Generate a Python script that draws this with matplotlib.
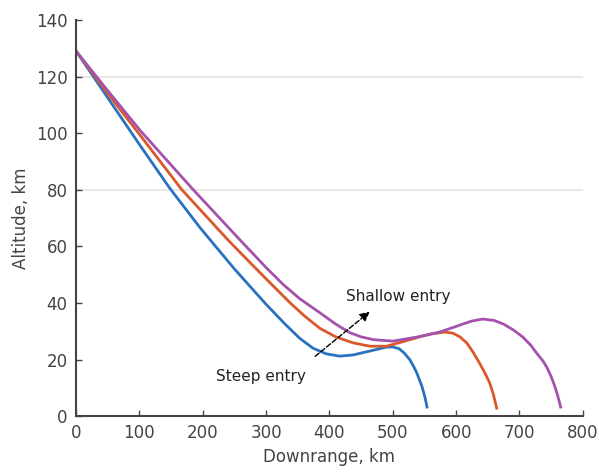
import matplotlib
matplotlib.use("Agg")
import matplotlib.pyplot as plt

# steep entry (blue)
steep_km = [0, 50, 100, 148, 196, 250, 300, 330, 353, 374, 395, 416, 437, 464, 490, 501, 510, 518, 527, 533, 538, 546, 551, 554]
steep_alt = [129, 112.5, 96, 80.5, 66.5, 52, 39.5, 32.5, 27.5, 24, 22, 21.2, 21.6, 23.0, 24.4, 24.4, 23.8, 22.3, 19.9, 17.5, 15.2, 10.5, 6.5, 3.2]

# middle entry (orange)
mid_km = [0, 50, 101, 167, 240, 274, 300, 338, 360, 385, 410, 437, 464, 490, 516, 542, 560, 582, 595, 606, 617, 627, 637, 646, 653, 659, 664]
mid_alt = [129, 114, 99.3, 80, 62.2, 54.4, 48.5, 40, 35.5, 31, 28, 25.9, 24.7, 24.7, 26.3, 28, 29, 29.7, 29.3, 28, 25.8, 22.5, 18.7, 15, 11.7, 7.5, 2.8]

# shallow entry (purple)
shallow_km = [0, 50, 101, 185, 259, 300, 327, 353, 385, 410, 432, 450, 470, 500, 540, 574, 595, 610, 625, 642, 660, 675, 690, 705, 718, 728, 737, 743, 750, 755, 760, 765]
shallow_alt = [129, 115, 101, 80, 62.2, 52.5, 46.5, 41.5, 36.5, 32.5, 29.5, 28, 27, 26.5, 28, 29.7, 31.3, 32.5, 33.6, 34.3, 33.8, 32.5, 30.5, 28, 25, 22, 19.5, 17.3, 14, 11, 7.5, 3.2]

x_ticks = [0, 100, 200, 300, 400, 500, 600, 700, 800]
y_ticks = [0, 20, 40, 60, 80, 100, 120, 140]
grid_lines = [80, 120]

fig = plt.figure(figsize=(5.99, 4.75), dpi=100)
ax = fig.add_axes([0.127, 0.124, 0.846, 0.834])

for g in grid_lines:
    ax.axhline(g, color='#e3e3e3', linewidth=1.2, zorder=0)

ax.plot(steep_km, steep_alt, color='#2a72c0', linewidth=2, solid_joinstyle='round')
ax.plot(mid_km, mid_alt, color='#d9592a', linewidth=2, solid_joinstyle='round')
ax.plot(shallow_km, shallow_alt, color='#a552ad', linewidth=2, solid_joinstyle='round')

# arrow from steep to shallow
ax.annotate('', xy=(467, 37.5), xytext=(374, 20.5),
            arrowprops=dict(arrowstyle='-|>', linestyle='--', color='black',
                            linewidth=1, mutation_scale=14))
ax.text(508, 42.4, 'Shallow entry', ha='center', va='center', fontsize=11, color='#222222')
ax.text(292, 14.1, 'Steep entry', ha='center', va='center', fontsize=11, color='#222222')

ax.set_xlim(0, 800)
ax.set_ylim(0, 140)
ax.set_xticks(x_ticks)
ax.set_yticks(y_ticks)
ax.tick_params(direction='in', length=4, width=1, colors='#444444', labelsize=12, pad=6)
for s in ['top', 'right']:
    ax.spines[s].set_visible(False)
for s in ['left', 'bottom']:
    ax.spines[s].set_color('#444444')
    ax.spines[s].set_linewidth(1.5)

ax.set_xlabel('Downrange, km', fontsize=12, color='#444444', labelpad=4)
ax.set_ylabel('Altitude, km', fontsize=12, color='#444444', labelpad=4)

fig.savefig('out.png', dpi=100)
